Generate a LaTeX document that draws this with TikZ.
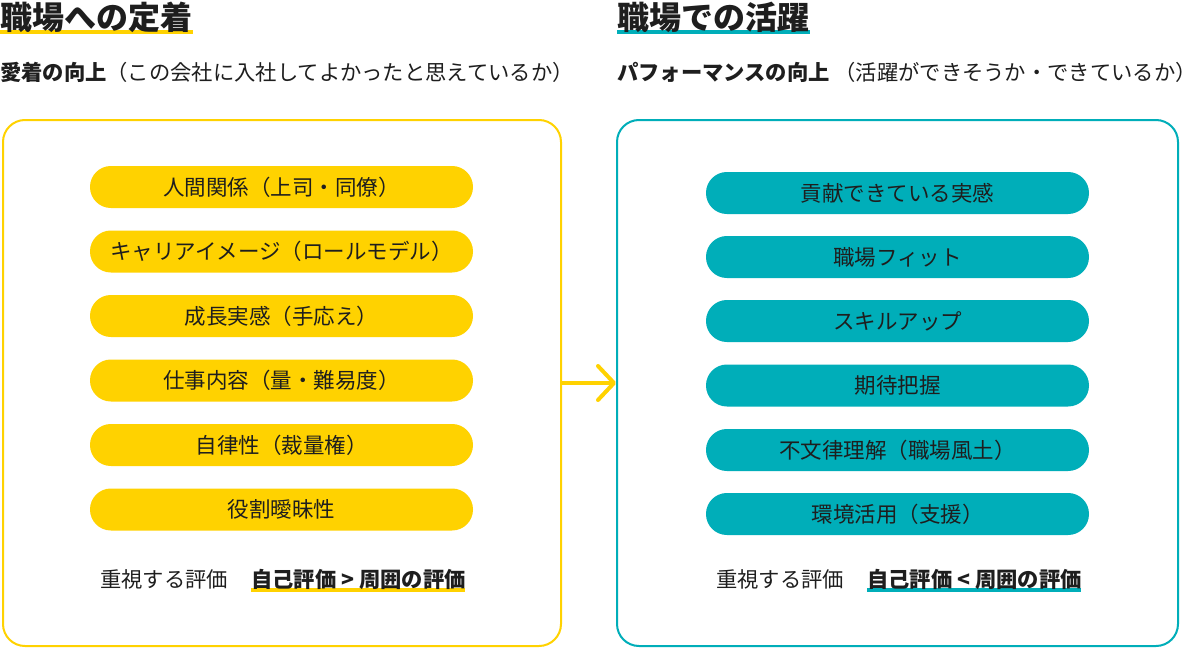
\documentclass[tikz,border=0pt]{standalone}
\usepackage{fontspec}
\setmainfont{Noto Sans CJK JP}
\usetikzlibrary{arrows.meta}
\definecolor{myyellow}{HTML}{FFD200}
\definecolor{myteal}{HTML}{00AEB9}
\definecolor{textc}{HTML}{1E1E1E}
\tikzset{
  ttl/.style={anchor=west, inner sep=0pt, text=textc, font=\fontsize{32}{32}\selectfont\bfseries},
  sub/.style={anchor=west, inner sep=0pt, text=textc, font=\fontsize{21.3}{21.3}\selectfont},
  panel/.style={line width=2pt, rounded corners=22pt, minimum width=#1, minimum height=526pt, inner sep=0pt},
  pill/.style={fill=#1, rounded corners=20.9pt, minimum width=383pt, minimum height=42pt, inner sep=0pt, text=textc, font=\fontsize{21.5}{21.5}\selectfont},
  hl/.style={line width=4.5pt, draw=#1},
}
\begin{document}
\begin{tikzpicture}[x=1pt,y=-1pt]
\useasboundingbox[fill=white] (0,0) rectangle (1200,648);
% titles
\coordinate (u1a) at (0,32); \coordinate (u1b) at (193,32);
\draw[hl=myyellow] (u1a) -- (u1b);
\node[ttl] (t1) at (0,17) {職場への定着};
\coordinate (u2a) at (617,32); \coordinate (u2b) at (810,32);
\draw[hl=myteal] (u2a) -- (u2b);
\node[ttl] (t2) at (617,17) {職場での活躍};
% subtitles
\node[sub] (s1) at (0,72) {\textbf{愛着の向上}（この会社に入社してよかったと思えているか）};
\node[sub] (s2) at (617,72) {\textbf{パフォーマンスの向上} （活躍ができそうか・できているか）};
% panels
\node[panel=558pt, draw=myyellow] (L) at (282,383) {};
\node[panel=561pt, draw=myteal] (R) at (897.5,383) {};
% arrow
\draw[myyellow, line width=4pt, line cap=round, -{Straight Barb[length=16pt,width=34pt,line cap=round,line join=round]}] (L.east) -- (R.west);
% left pills
\node[pill=myyellow] (l1) at (281.5,187) {人間関係（上司・同僚）};
\node[pill=myyellow] (l2) at (281.5,251.5) {キャリアイメージ（ロールモデル）};
\node[pill=myyellow] (l3) at (281.5,316) {成長実感（手応え）};
\node[pill=myyellow] (l4) at (281.5,380.5) {仕事内容（量・難易度）};
\node[pill=myyellow] (l5) at (281.5,445) {自律性（裁量権）};
\node[pill=myyellow] (l6) at (281.5,509.5) {役割曖昧性};
% right pills
\node[pill=myteal] (r1) at (897.5,193) {貢献できている実感};
\node[pill=myteal] (r2) at (897.5,257) {職場フィット};
\node[pill=myteal] (r3) at (897.5,321) {スキルアップ};
\node[pill=myteal] (r4) at (897.5,385.5) {期待把握};
\node[pill=myteal] (r5) at (897.5,450) {不文律理解（職場風土）};
\node[pill=myteal] (r6) at (897.5,514) {環境活用（支援）};
% bottom lines
\coordinate (b1a) at (251,590); \coordinate (b1b) at (465,590);
\draw[hl=myyellow] (b1a) -- (b1b);
\node[sub] (e1) at (100,579) {重視する評価};
\node[sub] (f1) at (251,579) {\textbf{自己評価 > 周囲の評価}};
\coordinate (b2a) at (867,590); \coordinate (b2b) at (1081,590);
\draw[hl=myteal] (b2a) -- (b2b);
\node[sub] (e2) at (716,579) {重視する評価};
\node[sub] (f2) at (867,579) {\textbf{自己評価 < 周囲の評価}};
\end{tikzpicture}
\end{document}
